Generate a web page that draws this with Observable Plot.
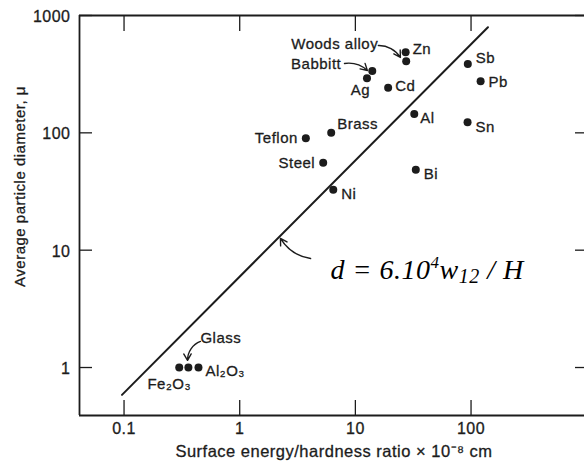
<!DOCTYPE html>
<html><head><meta charset="utf-8">
<script src="https://cdn.jsdelivr.net/npm/d3@7"></script>
<script src="https://cdn.jsdelivr.net/npm/@observablehq/plot@0.6"></script>
<style>
html,body{margin:0;padding:0;background:#fff;overflow:hidden}
svg text{letter-spacing:0.5px}
</style></head><body><div id="chart"></div>
<script>
// ---- data ----
const materials = ["Woods alloy","Zn","Babbitt","Ag","Cd","Sb","Pb","Al","Sn","Brass","Teflon","Steel","Ni","Bi","Glass","Al₂O₃","Fe₂O₃"];
const ratio     = [27.5, 27.2, 14.0, 12.6, 19.2, 93.8, 121, 32.3, 93.3, 6.18, 3.73, 5.27, 6.44, 33.3, 0.36, 0.44, 0.30];
const diameter  = [408, 486, 337, 292, 242, 387, 275, 145, 123, 100, 90, 55.6, 32.7, 48.4, 1.0, 1.0, 1.0];

const lineRatio = [0.096, 140];
const lineDiameter = [0.585, 794];

const xTicks = [0.1, 1, 10, 100];
const xTickLabels = ["0.1", "1", "10", "100"];
const yTicks = [1, 10, 100, 1000];
const yTickLabels = ["1", "10", "100", "1000"];
const xDomain = [0.0412, 957];
const yDomain = [0.39, 1000];

const xTitle = "Surface energy/hardness ratio × 10⁻⁸ cm";
const yTitle = "Average particle diameter, μ";

const arrowFromX = [15.8, 8.05, 0.458, 4.10];
const arrowFromY = [555, 390, 1.67, 8.49];
const arrowToX   = [24.5, 12.7, 0.354, 2.25];
const arrowToY   = [439, 340, 1.15, 12.6];

const eqText = "d = 6.10⁴w₁₂ / H";
const eqX = [6.1];
const eqY = [5.73];

// ---- layout (positions/styles, not data) ----
const labelLayout = {
  "Zn": {dx: 7, dy: -3, anchor: "start"},
  "Woods alloy": {dx: -28, dy: -17, anchor: "end"},
  "Babbitt": {dx: -31, dy: -7, anchor: "end"},
  "Ag": {dx: 3, dy: 12, anchor: "end"},
  "Cd": {dx: 7, dy: -2, anchor: "start"},
  "Sb": {dx: 8, dy: -6, anchor: "start"},
  "Pb": {dx: 8, dy: 1, anchor: "start"},
  "Al": {dx: 6, dy: 4, anchor: "start"},
  "Sn": {dx: 8, dy: 5, anchor: "start"},
  "Brass": {dx: 6, dy: -9, anchor: "start"},
  "Teflon": {dx: -8, dy: 0, anchor: "end"},
  "Steel": {dx: -8, dy: 0, anchor: "end"},
  "Ni": {dx: 8, dy: 4, anchor: "start"},
  "Bi": {dx: 8, dy: 4, anchor: "start"},
  "Glass": {dx: 12, dy: -29, anchor: "start"},
  "Al₂O₃": {dx: 7, dy: 4, anchor: "start"},
  "Fe₂O₃": {dx: -10, dy: 17, anchor: "middle"}
};
const arrowBends = [30, 25, -35, 25];

const points = materials.map((name, i) => ({name, ratio: ratio[i], diameter: diameter[i]}));
const fitLine = lineRatio.map((r, i) => ({ratio: r, diameter: lineDiameter[i]}));
const arrows = arrowFromX.map((_, i) => ({x1: arrowFromX[i], y1: arrowFromY[i], x2: arrowToX[i], y2: arrowToY[i], bend: arrowBends[i]}));

const ink = "#1c1c1c";
const heavy = {stroke: ink, strokeWidth: 0.3};
const labelFont = {fontSize: 15, fill: ink, ...heavy};

const plot = Plot.plot({
  width: 584,
  height: 466,
  marginLeft: 79,
  marginRight: 0,
  marginTop: 15,
  marginBottom: 51,
  style: {fontFamily: "'Liberation Sans', Arial, Helvetica, sans-serif", fontSize: "16px", color: ink, background: "white"},
  x: {type: "log", domain: xDomain},
  y: {type: "log", domain: yDomain},
  marks: [
    // frame (left, top, bottom)
    Plot.ruleX([xDomain[0]], {stroke: ink, strokeWidth: 1.8}),
    Plot.ruleY(yDomain, {stroke: ink, strokeWidth: 1.8}),
    // inward ticks (text hidden)
    Plot.axisX(xTicks, {anchor: "bottom", tickSize: 15, dy: -15, stroke: ink, strokeWidth: 1.3, fill: "none", label: null}),
    Plot.axisX(xTicks, {anchor: "top", tickSize: 15, dy: 15, stroke: ink, strokeWidth: 1.3, fill: "none", label: null}),
    Plot.axisY(yTicks, {anchor: "left", tickSize: 13, dx: 13, stroke: ink, strokeWidth: 1.3, fill: "none", label: null}),
    Plot.axisY(yTicks, {anchor: "right", tickSize: 10, dx: -10, stroke: ink, strokeWidth: 1.3, fill: "none", label: null}),
    // tick labels
    Plot.text(xTicks, {x: d => d, frameAnchor: "bottom", dy: 18, text: (d, i) => xTickLabels[i], fontSize: 16, fill: ink, ...heavy}),
    Plot.text(yTicks, {y: d => d, frameAnchor: "left", textAnchor: "end", dx: -9, dy: 1.5, text: (d, i) => yTickLabels[i], fontSize: 16, fill: ink, ...heavy}),
    // titles
    Plot.text([xTitle], {frameAnchor: "bottom", dy: 41, dx: 2, text: d => d, fontSize: 16.5, fill: ink, ...heavy}),
    Plot.text([yTitle], {frameAnchor: "left", textAnchor: "middle", rotate: -90, dx: -59, dy: -29, text: d => d, fontSize: 15, fill: ink, ...heavy}),
    // fit line
    Plot.line(fitLine, {x: "ratio", y: "diameter", stroke: ink, strokeWidth: 2}),
    // points
    Plot.dot(points, {x: "ratio", y: "diameter", r: 4, fill: ink, stroke: "none"}),
    // point labels
    ...materials.map(name => {
      const L = labelLayout[name];
      return Plot.text(points.filter(p => p.name === name), {
        x: "ratio", y: "diameter", text: "name",
        dx: L.dx, dy: L.dy, textAnchor: L.anchor, ...labelFont
      });
    }),
    // arrows
    ...arrows.map(a => Plot.arrow([a], {x1: "x1", y1: "y1", x2: "x2", y2: "y2", bend: a.bend, stroke: ink, strokeWidth: 1.4, headLength: 8})),
    // equation
    Plot.text([eqText], {x: eqX, y: eqY, text: d => d, textAnchor: "start", lineAnchor: "bottom",
      fontFamily: "'Liberation Serif', 'Times New Roman', serif", fontStyle: "italic", fontSize: 28, fill: "#000"})
  ]
});

// render the equation's super/subscripts with tspans
plot.querySelectorAll("text").forEach(t => {
  if (t.textContent === eqText) {
    const ns = "http://www.w3.org/2000/svg";
    const parts = [
      {s: "d = 6.10"},
      {s: "4", dy: -11, size: 17},
      {s: "w", dy: 11},
      {s: "12", dy: 4, size: 20},
      {s: " / H", dy: -4}
    ];
    while (t.firstChild) t.removeChild(t.firstChild);
    parts.forEach(p => {
      const ts = document.createElementNS(ns, "tspan");
      ts.textContent = p.s;
      if (p.dy) ts.setAttribute("dy", p.dy);
      if (p.size) ts.setAttribute("font-size", p.size);
      t.appendChild(ts);
    });
  }
});

document.getElementById("chart").appendChild(plot);
</script>
</body></html>
